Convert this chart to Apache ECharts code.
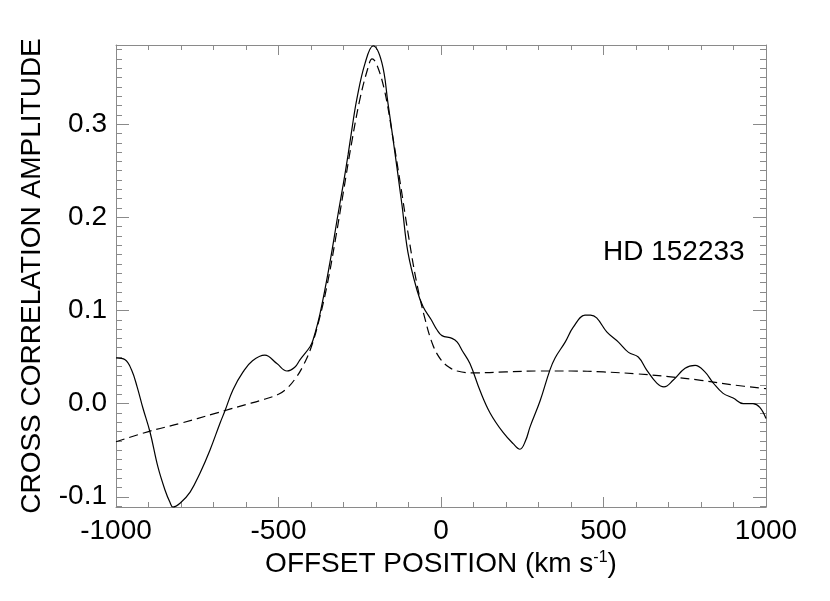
<!DOCTYPE html>
<html>
<head>
<meta charset="utf-8">
<script src="https://cdn.jsdelivr.net/npm/echarts@6/dist/echarts.min.js"></script>
<style>html,body{margin:0;padding:0;background:#fff;}#c{width:830px;height:601px;}</style>
</head>
<body>
<div id="c"></div>
<script>
// Cross-correlation (solid)
const solidX = [-1000,-972,-952,-935,-917,-895,-871,-849,-834,-825,-803,-772,-742,-711,-680,-665,-640,-609,-580,-542,-505,-474,-450,-434,-403,-394,-372,-342,-317,-300,-286,-274,-259,-234,-209,-182,-163,-148,-120,-102,-74,-55,-30,-12,3,34,50,65,89,120,151,191,222,243,260,274,305,335,351,382,407,443,460,479,510,546,577,607,633,664,686,714,751,782,812,838,868,899,930,960,981,1000];
const solidY = [0.049,0.047,0.036,0.018,-0.005,-0.031,-0.068,-0.093,-0.106,-0.111,-0.107,-0.095,-0.075,-0.050,-0.021,-0.008,0.015,0.034,0.046,0.052,0.043,0.035,0.039,0.047,0.061,0.068,0.097,0.151,0.203,0.237,0.267,0.295,0.327,0.365,0.384,0.366,0.322,0.285,0.213,0.163,0.122,0.104,0.090,0.079,0.073,0.070,0.066,0.057,0.043,0.014,-0.010,-0.031,-0.043,-0.049,-0.040,-0.025,0.003,0.036,0.049,0.066,0.082,0.095,0.095,0.092,0.077,0.066,0.055,0.050,0.036,0.022,0.018,0.025,0.038,0.041,0.034,0.022,0.011,0.006,0.000,0.000,-0.004,-0.016];
// Fit (dashed)
const fitX = [-1000,-900,-800,-700,-650,-600,-550,-500,-475,-450,-425,-400,-375,-350,-325,-300,-275,-250,-225,-212,-200,-175,-150,-125,-100,-75,-50,-25,0,25,50,100,200,300,400,500,600,700,800,900,1000];
const fitY = [-0.041,-0.030,-0.021,-0.011,-0.006,-0.001,0.004,0.010,0.016,0.026,0.040,0.060,0.090,0.128,0.176,0.228,0.280,0.326,0.360,0.370,0.366,0.338,0.290,0.236,0.180,0.130,0.092,0.063,0.047,0.039,0.035,0.033,0.034,0.035,0.035,0.034,0.032,0.029,0.025,0.020,0.016];
const xTicks = [-1000,-500,0,500,1000];
const yMajorTicks = [-0.1,0.0,0.1,0.2,0.3];
const yMinorTicks = [];
for (let i = -11; i <= 38; i++) yMinorTicks.push(+(i*0.01).toFixed(2));
const yMin = -0.111, yMax = 0.385;
const starLabel = 'HD 152233';

const pair = (xs, ys) => xs.map((x, i) => [x, ys[i]]);
const FONT = 'Liberation Sans';
const AX = '#8a8a8a';

function yAx(pos, ticks, len, labels, line) {
  return {
    type: 'value', position: pos, min: yMin, max: yMax,
    axisLine: {show: line, onZero: false, lineStyle: {color: AX, width: 1}},
    axisTick: {show: true, inside: true, length: len, customValues: ticks, lineStyle: {color: AX, width: 1}},
    axisLabel: labels ? {show: true, customValues: yMajorTicks, formatter: v => v.toFixed(1), fontFamily: FONT, fontSize: 28, color: '#000', margin: 9} : {show: false},
    splitLine: {show: false},
    name: (labels ? 'CROSS CORRELATION AMPLITUDE' : ''),
    nameLocation: 'middle', nameGap: 70,
    nameTextStyle: {fontFamily: FONT, fontSize: 28, color: '#000'}
  };
}
function xAx(pos, labels) {
  return {
    type: 'value', position: pos, min: -1000, max: 1000, interval: 500,
    axisLine: {show: true, onZero: false, lineStyle: {color: AX, width: 1}},
    axisTick: {show: true, inside: true, length: 10, lineStyle: {color: AX, width: 1}},
    minorTick: {show: true, splitNumber: 5, length: 5, lineStyle: {color: AX, width: 1}},
    axisLabel: labels ? {show: true, customValues: xTicks, formatter: v => String(v), fontFamily: FONT, fontSize: 28, color: '#000', margin: 10} : {show: false},
    splitLine: {show: false},
    name: labels ? '{a|OFFSET POSITION (km s}{b|-1}{a|)}' : '',
    nameLocation: 'middle', nameGap: 42,
    nameTextStyle: {rich: {a: {fontFamily: FONT, fontSize: 28, color: '#000'}, b: {fontFamily: FONT, fontSize: 16, color: '#000', verticalAlign: 'top', padding: [0,0,12,0]}}}
  };
}

const chart = echarts.init(document.getElementById('c'), null, {renderer: 'canvas'});
chart.setOption({
  animation: false,
  backgroundColor: '#fff',
  grid: {left: 116, right: 64, top: 45, bottom: 94, containLabel: false},
  xAxis: [xAx('bottom', true), xAx('top', false)],
  yAxis: [yAx('left', yMajorTicks, 13, true, true), yAx('left', yMinorTicks, 6, false, false),
          yAx('right', yMajorTicks, 13, false, true), yAx('right', yMinorTicks, 6, false, false)],
  graphic: [{type: 'text', left: 603, top: 238, style: {text: starLabel, font: '28px "Liberation Sans"', fill: '#000'}}],
  series: [
    {type: 'line', data: pair(solidX, solidY), showSymbol: false, smooth: 0.4, lineStyle: {color: '#000', width: 1.2}, clip: false},
    {type: 'line', data: pair(fitX, fitY), showSymbol: false, smooth: 0.4, lineStyle: {color: '#000', width: 1.2, type: [9,5]}, clip: false}
  ]
});
</script>
</body>
</html>
